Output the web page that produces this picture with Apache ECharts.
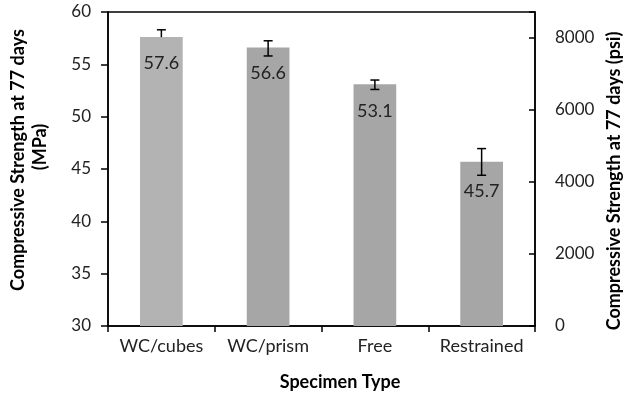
<!DOCTYPE html>
<html>
<head>
<meta charset="utf-8">
<script src="https://cdn.jsdelivr.net/npm/echarts@6/dist/echarts.min.js"></script>
<style>
html,body{margin:0;padding:0;background:#fff;}
#chart{width:628px;height:403px;}
</style>
</head>
<body>
<div id="chart"></div>
<script>
var categories = ['WC/cubes', 'WC/prism', 'Free', 'Restrained'];
var strengthMPa = [57.6, 56.6, 53.1, 45.7];
var errPlus = [0.7, 0.65, 0.4, 1.25];
var errMinus = [0, 0.8, 0.5, 1.3];
var leftTicks = [30, 35, 40, 45, 50, 55, 60];
var rightTicks = [0, 2000, 4000, 6000, 8000];
var barColors = ['#b3b3b3', '#a6a6a6', '#a6a6a6', '#a6a6a6'];
var labelGaps = [17, 17, 18, 21];

var FONT = 'Lato';
var chart = echarts.init(document.getElementById('chart'), null, {renderer: 'canvas'});

var errData = categories.map(function (c, i) {
  return [i, strengthMPa[i] - errMinus[i], strengthMPa[i] + errPlus[i], strengthMPa[i]];
});

var option = {
  animation: false,
  backgroundColor: '#fff',
  grid: {left: 108, right: 93, top: 12, bottom: 77, show: true, borderColor: '#000', borderWidth: 1.5},
  xAxis: {
    type: 'category',
    data: categories,
    axisLine: {lineStyle: {color: '#000', width: 1.5}},
    axisTick: {show: true, length: 6, interval: 0, lineStyle: {color: '#000', width: 1.5}},
    axisLabel: {color: '#222', fontFamily: FONT, fontSize: 18, margin: 11, interval: 0, hideOverlap: false}
  },
  yAxis: [{
    type: 'value',
    min: leftTicks[0], max: leftTicks[leftTicks.length - 1], interval: leftTicks[1] - leftTicks[0],
    splitLine: {show: false},
    axisLine: {show: true, lineStyle: {color: '#000', width: 1.5}},
    axisTick: {show: true, length: 7, lineStyle: {color: '#000', width: 1.5}},
    axisLabel: {color: '#222', fontFamily: FONT, fontSize: 17, margin: 17}
  }, {
    type: 'value',
    position: 'right',
    min: 0, max: 8702, interval: rightTicks[1] - rightTicks[0],
    splitLine: {show: false},
    axisLine: {show: true, lineStyle: {color: '#000', width: 1.5}},
    axisTick: {show: true, inside: true, length: 6, lineStyle: {color: '#000', width: 1.5}},
    axisLabel: {color: '#222', fontFamily: FONT, fontSize: 17, margin: 20,
      formatter: function (v) { return rightTicks.indexOf(v) >= 0 ? String(v) : ''; }}
  }],
  series: [{
    type: 'bar',
    data: strengthMPa.map(function (v, i) {
      return {value: v, itemStyle: {color: barColors[i]}, label: {distance: labelGaps[i]}};
    }),
    barWidth: '40%',
    z: 2,
    label: {
      show: true, position: 'insideTop', distance: 17,
      color: '#222', fontFamily: FONT, fontSize: 18,
      formatter: function (p) { return p.value.toFixed(1); }
    }
  }, {
    type: 'custom',
    z: 3,
    data: errData,
    renderItem: function (params, api) {
      var x = api.value(0);
      var lowP = api.coord([x, api.value(1)]);
      var highP = api.coord([x, api.value(2)]);
      var hw = 4.5;
      var style = {stroke: '#000', lineWidth: 1.5};
      var children = [
        {type: 'line', shape: {x1: highP[0], y1: highP[1], x2: lowP[0], y2: lowP[1]}, style: style},
        {type: 'line', shape: {x1: highP[0] - hw, y1: highP[1], x2: highP[0] + hw, y2: highP[1]}, style: style}
      ];
      if (api.value(1) < api.value(3)) {
        children.push({type: 'line', shape: {x1: lowP[0] - hw, y1: lowP[1], x2: lowP[0] + hw, y2: lowP[1]}, style: style});
      }
      return {type: 'group', children: children};
    }
  }],
  graphic: [
    {type: 'text', x: 340, y: 382, style: {text: 'Specimen Type', font: 'bold 18px ' + FONT, fill: '#000', textAlign: 'center', textVerticalAlign: 'middle'}},
    {type: 'text', x: 18, y: 160, rotation: Math.PI / 2, style: {text: 'Compressive Strength at 77 days', font: 'bold 18px ' + FONT, fill: '#000', textAlign: 'center', textVerticalAlign: 'middle'}},
    {type: 'text', x: 40, y: 147, rotation: Math.PI / 2, style: {text: '(MPa)', font: 'bold 18px ' + FONT, fill: '#000', textAlign: 'center', textVerticalAlign: 'middle'}},
    {type: 'text', x: 614, y: 181, rotation: Math.PI / 2, style: {text: 'Compressive Strength at 77 days (psi)', font: 'bold 18px ' + FONT, fill: '#000', textAlign: 'center', textVerticalAlign: 'middle'}}
  ]
};
chart.setOption(option);
</script>
</body>
</html>
